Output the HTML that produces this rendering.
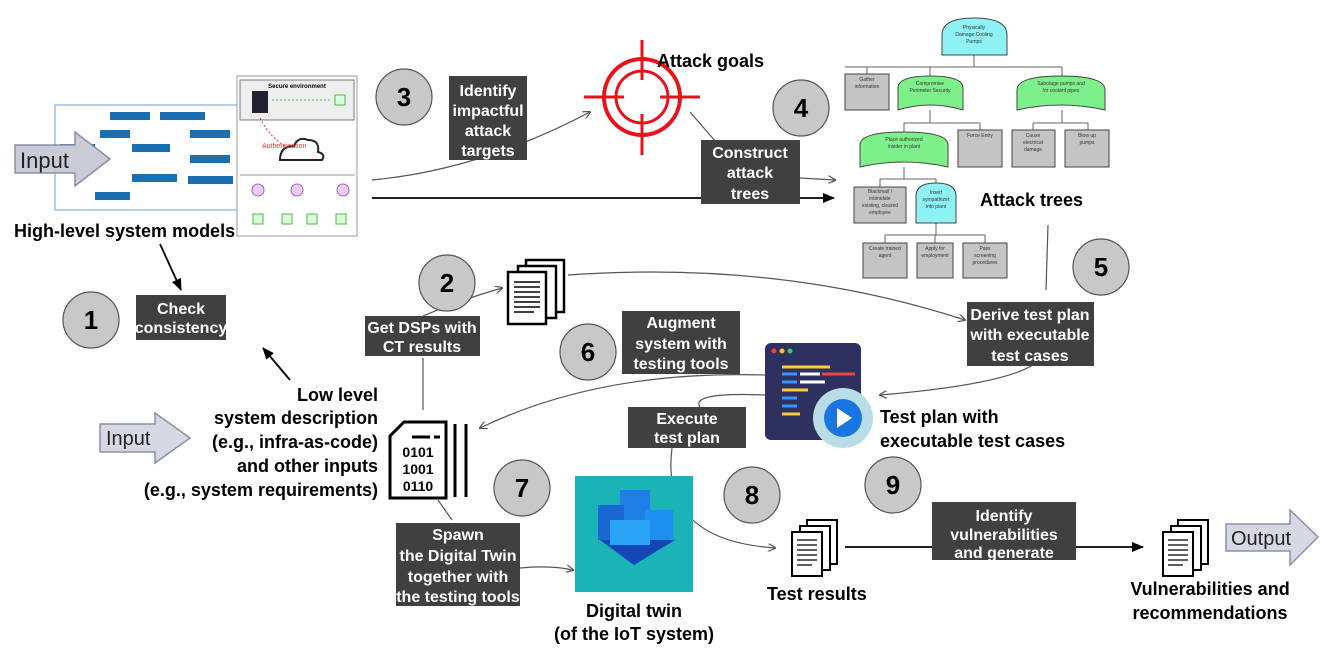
<!DOCTYPE html>
<html><head><meta charset="utf-8"><style>
html,body{margin:0;padding:0;background:#fff;width:1334px;height:658px;overflow:hidden}
svg{display:block}
text{font-family:"Liberation Sans",Arial,sans-serif}
.lb{fill:#fff;font-weight:bold;font-size:16px;text-anchor:middle}
.bk{fill:#000;font-weight:bold;font-size:18px}
.cn{fill:#000;font-weight:bold;font-size:26px;text-anchor:middle}
.t{fill:#333;font-size:5px;text-anchor:middle}
</style></head><body>
<svg width="1334" height="658" viewBox="0 0 1334 658" xmlns="http://www.w3.org/2000/svg">
<defs>
<marker id="a" markerWidth="8" markerHeight="8" refX="7" refY="4" orient="auto" markerUnits="userSpaceOnUse"><path d="M0,0 L8,4 L0,8" fill="none" stroke="#555" stroke-width="1.2"/></marker>
<marker id="ab" markerWidth="12" markerHeight="10" refX="11" refY="5" orient="auto" markerUnits="userSpaceOnUse"><path d="M0,0 L12,5 L0,10 Z" fill="#000"/></marker>
</defs>

<!-- system model images -->
<rect x="55" y="105" width="185" height="105" fill="#fff" stroke="#6aa0d0" stroke-width="1"/>
<g fill="#1a6fb0">
<rect x="110" y="112" width="40" height="8"/><rect x="160" y="112" width="45" height="8"/>
<rect x="100" y="130" width="30" height="8"/><rect x="190" y="130" width="40" height="8"/>
<rect x="132" y="144" width="38" height="8"/><rect x="190" y="155" width="40" height="8"/>
<rect x="60" y="144" width="35" height="8"/><rect x="132" y="174" width="45" height="8"/>
<rect x="188" y="176" width="45" height="8"/><rect x="95" y="192" width="35" height="8"/>
</g>
<rect x="237" y="76" width="120" height="160" fill="#fff" stroke="#999" stroke-width="1"/>
<rect x="240" y="80" width="114" height="40" fill="#eee" stroke="#777"/>
<text x="297" y="88" font-size="6" text-anchor="middle" font-weight="bold">Secure environment</text>
<rect x="252" y="91" width="16" height="22" fill="#223"/>
<rect x="335" y="95" width="10" height="10" fill="#dfd" stroke="#4b4"/>
<line x1="272" y1="100" x2="332" y2="100" stroke="#4b4" stroke-dasharray="2,2"/>
<path d="M280,160 q0,-14 14,-14 q4,-10 14,-6 q12,0 10,12 q8,2 4,8 z" fill="none" stroke="#222" stroke-width="2"/>
<path d="M260,118 q10,20 28,30" stroke="#e33" fill="none" stroke-dasharray="2,2"/>
<text x="262" y="148" font-size="7" fill="#e33">Authentication</text>
<g fill="#ecf" stroke="#96c"><circle cx="258" cy="190" r="6"/><circle cx="297" cy="190" r="6"/><circle cx="343" cy="190" r="6"/></g>
<g fill="#dfd" stroke="#4b4"><rect x="253" y="214" width="10" height="10"/><rect x="282" y="214" width="10" height="10"/><rect x="307" y="214" width="10" height="10"/><rect x="336" y="214" width="10" height="10"/></g>
<line x1="240" y1="175" x2="355" y2="175" stroke="#999"/>

<!-- input arrows -->
<path d="M15,145 L75,145 L75,132 L110,159 L75,186 L75,173 L15,173 Z" fill="#c9ccd6" stroke="#8a90a8" stroke-width="1.5"/>
<text x="20" y="168" font-size="22" fill="#222">Input</text>
<path d="M100,424 L155,424 L155,413 L190,438 L155,463 L155,452 L100,452 Z" fill="#d6d9e4" stroke="#8a90a8" stroke-width="1.5"/>
<text x="106" y="445" font-size="20" fill="#222">Input</text>
<path d="M1226,524 L1290,524 L1290,510 L1318,537 L1290,565 L1290,551 L1226,551 Z" fill="#d6d9e4" stroke="#8a90a8" stroke-width="1.5"/>
<text x="1231" y="545" font-size="20" fill="#222">Output</text>

<text x="14" y="237" class="bk" font-size="19">High-level system models</text>

<!-- connectors -->
<g fill="none" stroke="#555" stroke-width="1.2">
<path d="M372,180 Q480,170 590,112" marker-end="url(#a)"/>
<path d="M690,112 L716,142"/>
<path d="M800,178 L835,180" marker-end="url(#a)"/>
<path d="M568,275 Q780,260 965,320" marker-end="url(#a)"/>
<path d="M1048,225 L1046,290"/>
<path d="M1033,365 Q1000,385 880,395" marker-end="url(#a)"/>
<path d="M765,375 Q600,370 480,428" marker-end="url(#a)"/>
<path d="M423,410 L423,358"/>
<path d="M423,316 Q460,300 502,288" marker-end="url(#a)"/>
<path d="M765,395 Q690,392 700,407"/>
<path d="M672,448 Q660,540 775,548" marker-end="url(#a)"/>
<path d="M452,520 L438,500"/>
<path d="M520,568 Q550,565 573,570" marker-end="url(#a)"/>
</g>
<path d="M372,198 L834,198" stroke="#000" stroke-width="1.8" marker-end="url(#ab)"/>
<path d="M160,244 L181,290" stroke="#000" stroke-width="1.8" marker-end="url(#ab)"/>
<path d="M290,380 L263,348" stroke="#000" stroke-width="1.8" marker-end="url(#ab)"/>
<path d="M845,547 L1143,547" stroke="#000" stroke-width="1.8" marker-end="url(#ab)"/>

<!-- target -->
<g stroke="#e8121a" fill="none">
<circle cx="642" cy="97" r="38" stroke-width="4"/>
<circle cx="642" cy="97" r="26" stroke-width="3"/>
<line x1="584" y1="97" x2="624" y2="97" stroke-width="3"/><line x1="660" y1="97" x2="700" y2="97" stroke-width="3"/>
<line x1="642" y1="40" x2="642" y2="80" stroke-width="3"/><line x1="642" y1="114" x2="642" y2="155" stroke-width="3"/>
</g>
<text x="657" y="67" class="bk" font-size="18">Attack goals</text>

<!-- attack tree -->
<g stroke="#666" fill="none" stroke-width="1">
<path d="M974,55 V67 M845,67 H1062 M867,67 V74 M930,67 V78 M1062,67 V78"/>
<path d="M930,110 V123 M904,123 H980 M904,123 V132 M980,123 V130"/>
<path d="M1062,110 V123 M1033,123 H1088 M1033,123 V130 M1088,123 V130"/>
<path d="M904,167 V179 M880,179 H936 M880,179 V187 M936,179 V183"/>
<path d="M936,223 V235 M885,235 H985 M885,235 V243 M935,235 V243 M985,235 V243"/>
</g>
<g stroke="#444" stroke-width="1">
<path d="M942,55 V35 Q942,18 974,18 Q1007,18 1007,35 V55 Z" fill="#8ef1f4"/>
<path d="M898,110 V88 Q898,76 930,76 Q963,76 963,88 V110 Q930,100 898,110 Z" fill="#7ef08a"/>
<path d="M1017,110 V90 Q1017,76 1061,76 Q1105,76 1105,90 V110 Q1061,100 1017,110 Z" fill="#7ef08a"/>
<path d="M860,167 V145 Q860,132 904,132 Q948,132 948,145 V167 Q904,157 860,167 Z" fill="#7ef08a"/>
<path d="M916,223 V196 Q916,183 936,183 Q956,183 956,196 V223 Z" fill="#8ef1f4"/>
<g fill="#c4c4c4">
<rect x="845" y="74" width="44" height="36"/><rect x="958" y="130" width="44" height="37"/>
<rect x="1012" y="130" width="43" height="37"/><rect x="1065" y="130" width="44" height="37"/>
<rect x="854" y="187" width="52" height="36"/><rect x="863" y="243" width="44" height="35"/>
<rect x="917" y="243" width="36" height="35"/><rect x="963" y="243" width="44" height="35"/>
</g></g>
<g class="t">
<text x="974" y="29">Physically</text><text x="974" y="36">Damage Cooling</text><text x="974" y="43">Pumps</text>
<text x="867" y="81">Gather</text><text x="867" y="88">information</text>
<text x="930" y="85">Compromise</text><text x="930" y="92">Perimeter Security</text>
<text x="1061" y="85">Sabotage pumps and</text><text x="1061" y="92">/or coolant pipes</text>
<text x="904" y="141">Place authorized</text><text x="904" y="148">insider in plant</text>
<text x="980" y="137">Force Entry</text>
<text x="1033" y="137">Cause</text><text x="1033" y="144">electrical</text><text x="1033" y="151">damage</text>
<text x="1087" y="137">Blow up</text><text x="1087" y="144">pumps</text>
<text x="880" y="193">Blackmail /</text><text x="880" y="200">intimidate</text><text x="880" y="207">existing, cleared</text><text x="880" y="214">employee</text>
<text x="936" y="194">Insert</text><text x="936" y="201">sympathizer</text><text x="936" y="208">into plant</text>
<text x="885" y="250">Create trained</text><text x="885" y="257">agent</text>
<text x="935" y="250">Apply for</text><text x="935" y="257">employment</text>
<text x="985" y="250">Pass</text><text x="985" y="257">screening</text><text x="985" y="264">procedures</text>
</g>
<text x="980" y="206" class="bk" font-size="19">Attack trees</text>

<!-- doc stacks -->
<g stroke="#000" stroke-width="2.5" fill="#fff">
<rect x="526" y="260" width="38" height="52"/><rect x="518" y="266" width="38" height="52"/><rect x="508" y="272" width="38" height="52"/>
</g>
<g stroke="#000" stroke-width="1.5"><path d="M514,282 H540 M514,287 H540 M514,292 H540 M514,297 H540 M514,302 H540 M514,307 H540 M514,312 H534"/></g>
<g stroke="#000" stroke-width="2" fill="#fff">
<rect x="807" y="520" width="30" height="44"/><rect x="800" y="526" width="30" height="44"/><rect x="792" y="532" width="30" height="44"/>
<rect x="1178" y="520" width="30" height="44"/><rect x="1171" y="526" width="30" height="44"/><rect x="1163" y="532" width="30" height="44"/>
</g>
<g stroke="#000" stroke-width="1.2"><path d="M797,540 H817 M797,545 H817 M797,550 H817 M797,555 H817 M797,560 H817 M797,565 H812 M1168,540 H1188 M1168,545 H1188 M1168,550 H1188 M1168,555 H1188 M1168,560 H1188 M1168,565 H1183"/></g>

<!-- binary doc -->
<path d="M404,422 L446,422 L446,498 L390,498 L390,436 Z" fill="#fff" stroke="#000" stroke-width="3"/>
<path d="M455,424 V497 M466,424 V497" stroke="#000" stroke-width="3"/>
<text x="418" y="457" font-size="14" font-weight="bold" font-family="Liberation Mono,monospace" text-anchor="middle">0101</text>
<text x="418" y="474" font-size="14" font-weight="bold" font-family="Liberation Mono,monospace" text-anchor="middle">1001</text>
<text x="418" y="491" font-size="14" font-weight="bold" font-family="Liberation Mono,monospace" text-anchor="middle">0110</text>
<path d="M412,437 H430 M434,437 H440" stroke="#000" stroke-width="3"/>

<!-- code window -->
<rect x="765" y="343" width="96" height="97" rx="6" fill="#2e3160"/>
<circle cx="774" cy="351" r="2.5" fill="#e44"/><circle cx="782" cy="351" r="2.5" fill="#fb3"/><circle cx="790" cy="351" r="2.5" fill="#3c6"/>
<g stroke-width="3"><path d="M782,367 H830" stroke="#fc3"/><path d="M782,374 H797" stroke="#39f"/><path d="M800,374 H820" stroke="#fff"/><path d="M822,374 H855" stroke="#e44"/>
<path d="M782,382 H797" stroke="#39f"/><path d="M800,382 H825" stroke="#fff"/><path d="M782,390 H808" stroke="#fc3"/><path d="M782,398 H797" stroke="#39f"/><path d="M782,406 H797" stroke="#39f"/><path d="M782,414 H800" stroke="#fc3"/></g>
<circle cx="843" cy="418" r="30" fill="#b9dde6"/>
<circle cx="843" cy="418" r="19" fill="#1976e0"/>
<path d="M837,408 L852,418 L837,428 Z" fill="#fff"/>
<text x="880" y="423" class="bk">Test plan with</text>
<text x="880" y="447" class="bk">executable test cases</text>

<!-- digital twin -->
<rect x="575" y="476" width="118" height="116" fill="#1bb3b8"/>
<path d="M600,540 L634,520 L675,540 L634,565 Z" fill="#1446b8"/>
<rect x="620" y="490" width="30" height="50" fill="#1f7fe6"/>
<rect x="598" y="505" width="26" height="35" fill="#1967d2"/>
<rect x="645" y="510" width="28" height="30" fill="#1d8fee"/>
<rect x="610" y="520" width="40" height="25" fill="#2aa4f5"/>
<text x="634" y="617" class="bk" text-anchor="middle">Digital twin</text>
<text x="634" y="640" class="bk" text-anchor="middle">(of the IoT system)</text>

<text x="767" y="600" class="bk">Test results</text>
<text x="1210" y="595" class="bk" text-anchor="middle">Vulnerabilities and</text>
<text x="1210" y="619" class="bk" text-anchor="middle">recommendations</text>

<g class="bk" text-anchor="end">
<text x="378" y="401">Low level</text>
<text x="378" y="424">system description</text>
<text x="378" y="448">(e.g., infra-as-code)</text>
<text x="378" y="472">and other inputs</text>
<text x="378" y="496">(e.g., system requirements)</text>
</g>

<!-- dark label boxes -->
<g fill="#404040">
<rect x="449" y="76" width="78" height="84"/>
<rect x="701" y="140" width="99" height="64"/>
<rect x="136" y="295" width="90" height="45"/>
<rect x="365" y="316" width="115" height="40"/>
<rect x="622" y="311" width="118" height="63"/>
<rect x="967" y="302" width="127" height="64"/>
<rect x="628" y="407" width="118" height="41"/>
<rect x="396" y="523" width="124" height="83"/>
<rect x="932" y="502" width="144" height="58"/>
</g>
<g class="lb">
<text x="488" y="96">Identify</text><text x="488" y="116">impactful</text><text x="488" y="136">attack</text><text x="488" y="156">targets</text>
<text x="750" y="158">Construct</text><text x="750" y="178">attack</text><text x="750" y="199">trees</text>
<text x="181" y="314">Check</text><text x="181" y="333">consistency</text>
<text x="422" y="333">Get DSPs with</text><text x="422" y="352">CT results</text>
<text x="681" y="328">Augment</text><text x="681" y="349">system with</text><text x="681" y="369">testing tools</text>
<text x="1030" y="320">Derive test plan</text><text x="1030" y="340">with executable</text><text x="1030" y="361">test cases</text>
<text x="687" y="424">Execute</text><text x="687" y="443">test plan</text>
<text x="458" y="540">Spawn</text><text x="458" y="561">the Digital Twin</text><text x="458" y="582">together with</text><text x="458" y="602">the testing tools</text>
<text x="1004" y="521">Identify</text><text x="1004" y="540">vulnerabilities</text><text x="1004" y="558">and  generate</text>
</g>

<!-- numbered circles -->
<g fill="#c8c8c8" stroke="#555" stroke-width="1.2">
<circle cx="91" cy="320" r="28"/><circle cx="447" cy="283" r="28"/><circle cx="404" cy="97" r="28"/>
<circle cx="801" cy="108" r="28"/><circle cx="1101" cy="267" r="28"/><circle cx="588" cy="352" r="28"/>
<circle cx="522" cy="488" r="28"/><circle cx="752" cy="495" r="28"/><circle cx="893" cy="485" r="28"/>
</g>
<g class="cn">
<text x="91" y="329">1</text><text x="447" y="292">2</text><text x="404" y="106">3</text>
<text x="801" y="117">4</text><text x="1101" y="276">5</text><text x="588" y="361">6</text>
<text x="522" y="497">7</text><text x="752" y="504">8</text><text x="893" y="494">9</text>
</g>
</svg>
</body></html>
